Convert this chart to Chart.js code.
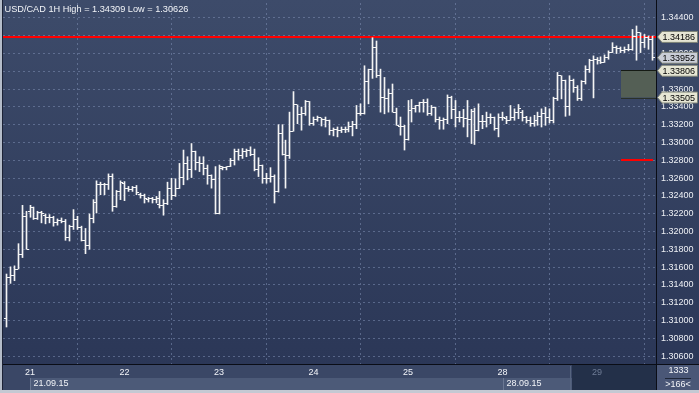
<!DOCTYPE html>
<html><head><meta charset="utf-8">
<script src="https://cdn.jsdelivr.net/npm/chart.js"></script>
<style>html,body{margin:0;padding:0;background:#c4c9d3;overflow:hidden}canvas{display:block}</style>
</head><body>
<canvas id="c" width="699" height="393"></canvas>
<script>
const chartTitle = 'USD/CAD 1H High = 1.34309 Low = 1.30626';
const opens = [1.31027,1.31484,1.31503,1.31578,1.31745,1.32164,1.32219,1.32264,1.32146,1.32208,
1.32183,1.32160,1.32160,1.32097,1.32127,1.32116,1.31930,1.32060,1.32135,1.32041,
1.31901,1.31837,1.32146,1.32331,1.32531,1.32525,1.32531,1.32617,1.32283,1.32450,
1.32542,1.32487,1.32469,1.32498,1.32413,1.32405,1.32358,1.32369,1.32358,1.32302,
1.32294,1.32320,1.32487,1.32402,1.32487,1.32606,1.32765,1.32692,1.32896,1.32776,
1.32765,1.32710,1.32628,1.32580,1.32197,1.32710,1.32717,1.32729,1.32792,1.32903,
1.32859,1.32903,1.32915,1.32866,1.32692,1.32740,1.32592,1.32592,1.32617,1.32450,
1.33100,1.32866,1.32859,1.33126,1.33423,1.33311,1.33322,1.33461,1.33211,1.33260,
1.33275,1.33260,1.33249,1.33138,1.33149,1.33138,1.33149,1.33149,1.33185,1.33200,
1.33322,1.33322,1.33684,1.33821,1.34066,1.33750,1.33509,1.33497,1.33545,1.33341,
1.33185,1.33185,1.33037,1.33360,1.33386,1.33416,1.33445,1.33453,1.33322,1.33397,
1.33260,1.33249,1.33260,1.33509,1.33372,1.33286,1.33286,1.33267,1.33260,1.33349,
1.33138,1.33238,1.33238,1.33286,1.33275,1.33155,1.33286,1.33267,1.33249,1.33286,
1.33341,1.33341,1.33286,1.33252,1.33211,1.33249,1.33294,1.33322,1.33286,1.33249,
1.33490,1.33750,1.33701,1.33405,1.33701,1.33620,1.33490,1.33687,1.33824,1.33918,
1.33935,1.33924,1.33899,1.33954,1.34010,1.34066,1.34055,1.34036,1.34043,1.34047,
1.34196,1.34233,1.34121,1.34177,1.34158];
const highs = [1.31522,1.31603,1.31614,1.31863,1.32294,1.32227,1.32294,1.32275,1.32227,1.32227,
1.32197,1.32190,1.32171,1.32141,1.32152,1.32135,1.32071,1.32246,1.32171,1.32060,
1.32034,1.32197,1.32358,1.32569,1.32554,1.32542,1.32647,1.32647,1.32461,1.32569,
1.32561,1.32506,1.32506,1.32517,1.32431,1.32420,1.32383,1.32383,1.32394,1.32450,
1.32358,1.32554,1.32598,1.32592,1.32765,1.32915,1.32840,1.32988,1.32903,1.32840,
1.32840,1.32747,1.32636,1.32729,1.32747,1.32729,1.32729,1.32821,1.32926,1.32926,
1.32932,1.32926,1.32951,1.32926,1.32829,1.32747,1.32654,1.32717,1.32636,1.33200,
1.33200,1.33026,1.33341,1.33572,1.33423,1.33397,1.33472,1.33461,1.33286,1.33297,
1.33275,1.33286,1.33252,1.33163,1.33174,1.33174,1.33174,1.33230,1.33238,1.33416,
1.33434,1.33862,1.33824,1.34177,1.34140,1.33824,1.33731,1.33601,1.33657,1.33386,
1.33286,1.33193,1.33472,1.33483,1.33416,1.33453,1.33483,1.33490,1.33416,1.33397,
1.33286,1.33275,1.33534,1.33520,1.33472,1.33349,1.33372,1.33472,1.33372,1.33386,
1.33434,1.33305,1.33341,1.33322,1.33286,1.33322,1.33341,1.33294,1.33416,1.33378,
1.33427,1.33360,1.33294,1.33286,1.33305,1.33341,1.33378,1.33397,1.33378,1.33509,
1.33787,1.33750,1.33701,1.33750,1.33712,1.33639,1.33695,1.33862,1.33935,1.33973,
1.33954,1.33962,1.33984,1.34029,1.34121,1.34085,1.34073,1.34073,1.34102,1.34270,
1.34309,1.34233,1.34214,1.34196,1.34196];
const lows = [1.30927,1.31417,1.31447,1.31578,1.31707,1.31800,1.32160,1.32135,1.32135,1.32097,
1.32086,1.32097,1.32060,1.32071,1.32097,1.31901,1.31893,1.32023,1.32023,1.31893,
1.31751,1.31800,1.32097,1.32208,1.32413,1.32413,1.32472,1.32227,1.32272,1.32358,
1.32346,1.32450,1.32450,1.32413,1.32375,1.32320,1.32331,1.32320,1.32320,1.32264,
1.32183,1.32302,1.32358,1.32394,1.32483,1.32525,1.32580,1.32606,1.32692,1.32673,
1.32636,1.32531,1.32487,1.32197,1.32197,1.32692,1.32692,1.32729,1.32747,1.32803,
1.32821,1.32840,1.32851,1.32681,1.32617,1.32542,1.32542,1.32554,1.32320,1.32442,
1.32859,1.32487,1.32821,1.33126,1.33211,1.33138,1.33305,1.33193,1.33193,1.33238,
1.33185,1.33174,1.33085,1.33074,1.33063,1.33111,1.33111,1.33119,1.33074,1.33155,
1.33305,1.33319,1.33434,1.33720,1.33731,1.33341,1.33322,1.33341,1.33341,1.33193,
1.33082,1.32915,1.33026,1.33230,1.33341,1.33341,1.33341,1.33305,1.33305,1.33230,
1.33149,1.33149,1.33211,1.33267,1.33174,1.33230,1.33174,1.33063,1.32988,1.32977,
1.33130,1.33155,1.33174,1.33211,1.33138,1.33063,1.33249,1.33211,1.33249,1.33249,
1.33267,1.33241,1.33219,1.33182,1.33182,1.33193,1.33174,1.33193,1.33219,1.33219,
1.33472,1.33490,1.33294,1.33305,1.33564,1.33472,1.33472,1.33657,1.33787,1.33501,
1.33880,1.33887,1.33899,1.33935,1.34010,1.33999,1.34010,1.34010,1.34029,1.34036,
1.33924,1.34010,1.34066,1.34047,1.33924];
const closes = [1.31484,1.31503,1.31578,1.31745,1.32164,1.31800,1.32275,1.32146,1.32208,1.32197,
1.32160,1.32160,1.32097,1.32127,1.32116,1.31930,1.32060,1.32135,1.32041,1.31901,
1.31837,1.32146,1.32331,1.32531,1.32525,1.32531,1.32617,1.32283,1.32450,1.32554,
1.32487,1.32469,1.32498,1.32442,1.32405,1.32375,1.32369,1.32358,1.32375,1.32294,
1.32320,1.32487,1.32402,1.32487,1.32606,1.32765,1.32692,1.32896,1.32776,1.32765,
1.32710,1.32628,1.32580,1.32197,1.32729,1.32717,1.32729,1.32792,1.32903,1.32859,
1.32903,1.32915,1.32866,1.32692,1.32740,1.32592,1.32592,1.32617,1.32450,1.33100,
1.32866,1.32859,1.33126,1.33423,1.33311,1.33322,1.33461,1.33211,1.33260,1.33275,
1.33260,1.33249,1.33138,1.33149,1.33138,1.33149,1.33149,1.33185,1.33200,1.33322,
1.33322,1.33684,1.33821,1.34066,1.33750,1.33509,1.33497,1.33545,1.33341,1.33193,
1.33185,1.33037,1.33360,1.33386,1.33416,1.33445,1.33453,1.33322,1.33397,1.33260,
1.33249,1.33260,1.33509,1.33372,1.33286,1.33286,1.33267,1.33260,1.33349,1.33138,
1.33238,1.33238,1.33286,1.33275,1.33155,1.33286,1.33286,1.33249,1.33286,1.33341,
1.33378,1.33286,1.33252,1.33211,1.33249,1.33294,1.33322,1.33286,1.33249,1.33490,
1.33750,1.33701,1.33405,1.33701,1.33620,1.33490,1.33687,1.33824,1.33918,1.33935,
1.33924,1.33899,1.33954,1.34010,1.34066,1.34058,1.34036,1.34047,1.34047,1.34196,
1.34233,1.34121,1.34177,1.34158,1.33952];
const dayStartIndex = [6,30,54,78,102,126,150];
const dayLabels = ['21','22','23','24','25','28','29'];
const weekStartIndex = [6,126];
const weekLabels = ['21.09.15','28.09.15'];
const yTickValues = [1.30600,1.30800,1.31000,1.31200,1.31400,1.31600,1.31800,1.32000,1.32200,1.32400,
1.32600,1.32800,1.33000,1.33200,1.33400,1.33600,1.33800,1.34000,1.34200,1.34400];
const resistanceLevel = 1.34186;
const zoneTop = 1.33806;
const zoneBottom = 1.33505;
const targetLevel = 1.32800;
const barCountTop = '1333';
const barCountBottom = '>166<';

const FONT = '"Liberation Sans", Arial, sans-serif';
const idx = opens.map((_, i) => i);

function tickImage(side) {
  const c = document.createElement('canvas');
  c.width = 5; c.height = 1;
  const g = c.getContext('2d');
  g.fillStyle = '#f4f4f4';
  g.fillRect(side < 0 ? 0 : 3, 0, 2, 1);
  return c;
}

function drawTag(ctx, y, text, fill) {
  const tip = 657.5, xl = 662, xr = 697.5, h = 5.5;
  ctx.beginPath();
  ctx.moveTo(tip, y);
  ctx.lineTo(xl, y - h); ctx.lineTo(xr, y - h); ctx.lineTo(xr, y + h); ctx.lineTo(xl, y + h);
  ctx.closePath();
  ctx.fillStyle = fill; ctx.fill();
  ctx.strokeStyle = '#7d8276'; ctx.lineWidth = 1; ctx.stroke();
  ctx.fillStyle = '#000';
  ctx.font = '9px ' + FONT;
  ctx.textAlign = 'left'; ctx.textBaseline = 'middle';
  ctx.fillText(text, 662.5, y + 0.5);
}

function noPad(s) {
  s.paddingTop = 0; s.paddingBottom = 0; s.paddingLeft = 0; s.paddingRight = 0;
}

const decor = {
  id: 'decor',
  beforeDraw(chart) {
    const ctx = chart.ctx, a = chart.chartArea;
    ctx.save();
    ctx.fillStyle = '#c4c9d3';
    ctx.fillRect(0, 0, 699, 393);
    const g = ctx.createLinearGradient(0, 0, 0, a.bottom);
    g.addColorStop(0, '#3d4b6a');
    g.addColorStop(1, '#2b3757');
    ctx.fillStyle = g;
    ctx.fillRect(3, 0, 696, a.bottom);
    ctx.fillStyle = '#3a4766';
    ctx.fillRect(3, a.bottom, a.right - 3, 25);
    const xs = chart.scales.x;
    const bandL = Math.round(xs.getPixelForValue(dayStartIndex[0]));
    const darkL = 572;
    ctx.fillStyle = '#4c5a78';
    ctx.fillRect(bandL, a.bottom + 13, darkL - bandL, 12);
    ctx.fillStyle = '#233049';
    ctx.fillRect(darkL, a.bottom, a.right - darkL, 25);
    ctx.fillStyle = '#56647f';
    ctx.fillRect(darkL - 2, a.bottom + 1, 1, 24);
    ctx.fillStyle = '#4a5777';
    ctx.fillRect(a.right, a.bottom, 699 - a.right, 25);
    ctx.fillStyle = '#b4bcc9';
    ctx.fillRect(0, 0, 2, 393);
    ctx.fillStyle = '#1c2236';
    ctx.fillRect(2, 0, 1, 390);
    ctx.restore();
  },
  beforeDatasetsDraw(chart) {
    // snap OHLC marks to whole device pixels so 1px strokes stay crisp
    chart.getDatasetMeta(0).data.forEach(el => { el.x = Math.floor(el.x) + 0.5; });
    [1, 2].forEach(d => chart.getDatasetMeta(d).data.forEach(el => {
      el.x = Math.floor(el.x) + 0.5; el.y = Math.floor(el.y) + 0.5;
    }));
    const ctx = chart.ctx, a = chart.chartArea, ys = chart.scales.y;
    ctx.save();
    const zt = ys.getPixelForValue(zoneTop), zb = ys.getPixelForValue(zoneBottom);
    const zl = a.right - 36;
    ctx.fillStyle = '#545f55';
    ctx.fillRect(zl, zt, a.right - zl, zb - zt);
    ctx.fillStyle = '#151a14';
    ctx.fillRect(zl, Math.round(zt) - 1, a.right - zl, 1);
    ctx.fillStyle = '#2a302a';
    ctx.fillRect(zl, Math.round(zb), a.right - zl, 1);
    ctx.fillStyle = '#ff0000';
    const ry = ys.getPixelForValue(resistanceLevel);
    ctx.fillRect(a.left, Math.round(ry) - 1, a.right - a.left, 2);
    const ty = ys.getPixelForValue(targetLevel);
    ctx.fillRect(a.right - 36, Math.round(ty) - 1, 32, 2);
    ctx.restore();
  },
  afterDraw(chart) {
    const ctx = chart.ctx, a = chart.chartArea, ys = chart.scales.y, xs = chart.scales.x;
    ctx.save();
    ctx.fillStyle = '#0a0d16';
    ctx.fillRect(3, a.bottom - 1, 696, 1);
    ctx.fillRect(a.right - 1, 0, 1, 390);
    ctx.fillStyle = '#c4c9d3';
    ctx.fillRect(0, 390, 699, 3);
    ctx.fillStyle = '#f2f4f8';
    ctx.font = '9.2px ' + FONT;
    ctx.textAlign = 'left'; ctx.textBaseline = 'alphabetic';
    ctx.fillText(chartTitle, 4.5, 11.5);
    ctx.font = '9px ' + FONT;
    ctx.textBaseline = 'middle';
    weekStartIndex.forEach((v, i) => {
      const px = xs.getPixelForValue(v);
      ctx.fillStyle = '#6b7893';
      ctx.fillRect(Math.round(px), a.bottom + 13, 1, 12);
      ctx.fillStyle = '#f2f4f8';
      ctx.fillText(weekLabels[i], Math.round(px) + 3.5, a.bottom + 19);
    });
    ctx.textAlign = 'center';
    ctx.fillStyle = '#f2f4f8';
    ctx.fillText(barCountTop, 678.5, a.bottom + 6);
    ctx.fillStyle = '#1e2638';
    ctx.fillRect(665, a.bottom + 13, 26, 1);
    ctx.fillStyle = '#f2f4f8';
    ctx.fillText(barCountBottom, 678, a.bottom + 20);
    drawTag(ctx, ys.getPixelForValue(resistanceLevel), resistanceLevel.toFixed(5), '#e6e6d4');
    drawTag(ctx, ys.getPixelForValue(zoneTop), zoneTop.toFixed(5), '#e6e6d4');
    drawTag(ctx, ys.getPixelForValue(zoneBottom), zoneBottom.toFixed(5), '#e6e6d4');
    const last = closes[closes.length - 1];
    drawTag(ctx, ys.getPixelForValue(last), last.toFixed(5), '#c9cdd7');
    ctx.restore();
  }
};

new Chart(document.getElementById('c'), {
  type: 'bar',
  data: {
    datasets: [
      { type: 'bar', data: idx.map(i => ({ x: i, y: [lows[i], highs[i]] })), backgroundColor: '#f4f4f4',
        borderWidth: 0, barThickness: 1, order: 3 },
      { type: 'line', data: idx.map(i => ({ x: i, y: opens[i] })), showLine: false,
        pointStyle: tickImage(-1), pointRadius: 2, pointHoverRadius: 2, order: 2 },
      { type: 'line', data: idx.map(i => ({ x: i, y: closes[i] })), showLine: false,
        pointStyle: tickImage(1), pointRadius: 2, pointHoverRadius: 2, order: 1 }
    ]
  },
  options: {
    responsive: false, animation: false, events: [],
    devicePixelRatio: 1,
    layout: { padding: { left: 3, right: 0, top: 0, bottom: 3 } },
    plugins: { legend: { display: false }, tooltip: { enabled: false } },
    scales: {
      x: {
        type: 'linear', min: -0.8635, max: 165.23, offset: false,
        afterBuildTicks: s => { s.ticks = dayStartIndex.map(v => ({ value: v })); },
        afterFit: s => { s.height = 25; noPad(s); },
        grid: { color: 'rgba(125,142,178,0.55)', drawTicks: false, lineWidth: 1 },
        border: { display: false, dash: [2, 3] },
        ticks: {
          autoSkip: false, maxRotation: 0, padding: 2,
          callback: (v, i) => dayLabels[i],
          font: { family: FONT, size: 9 },
          color: c => c.index === dayLabels.length - 1 ? '#6f7c96' : '#f2f4f8'
        }
      },
      y: {
        position: 'right', min: 1.30500, max: 1.34567,
        afterBuildTicks: s => { s.ticks = yTickValues.map(v => ({ value: v })); },
        afterFit: s => { s.width = 42; noPad(s); },
        grid: { color: 'rgba(125,142,178,0.55)', drawTicks: false, lineWidth: 1 },
        border: { display: false, dash: [2, 3] },
        ticks: {
          padding: 4, autoSkip: false,
          callback: v => Number(v).toFixed(5),
          font: { family: FONT, size: 9 },
          color: '#eef0f5'
        }
      }
    }
  },
  plugins: [decor]
});
</script>
</body></html>
